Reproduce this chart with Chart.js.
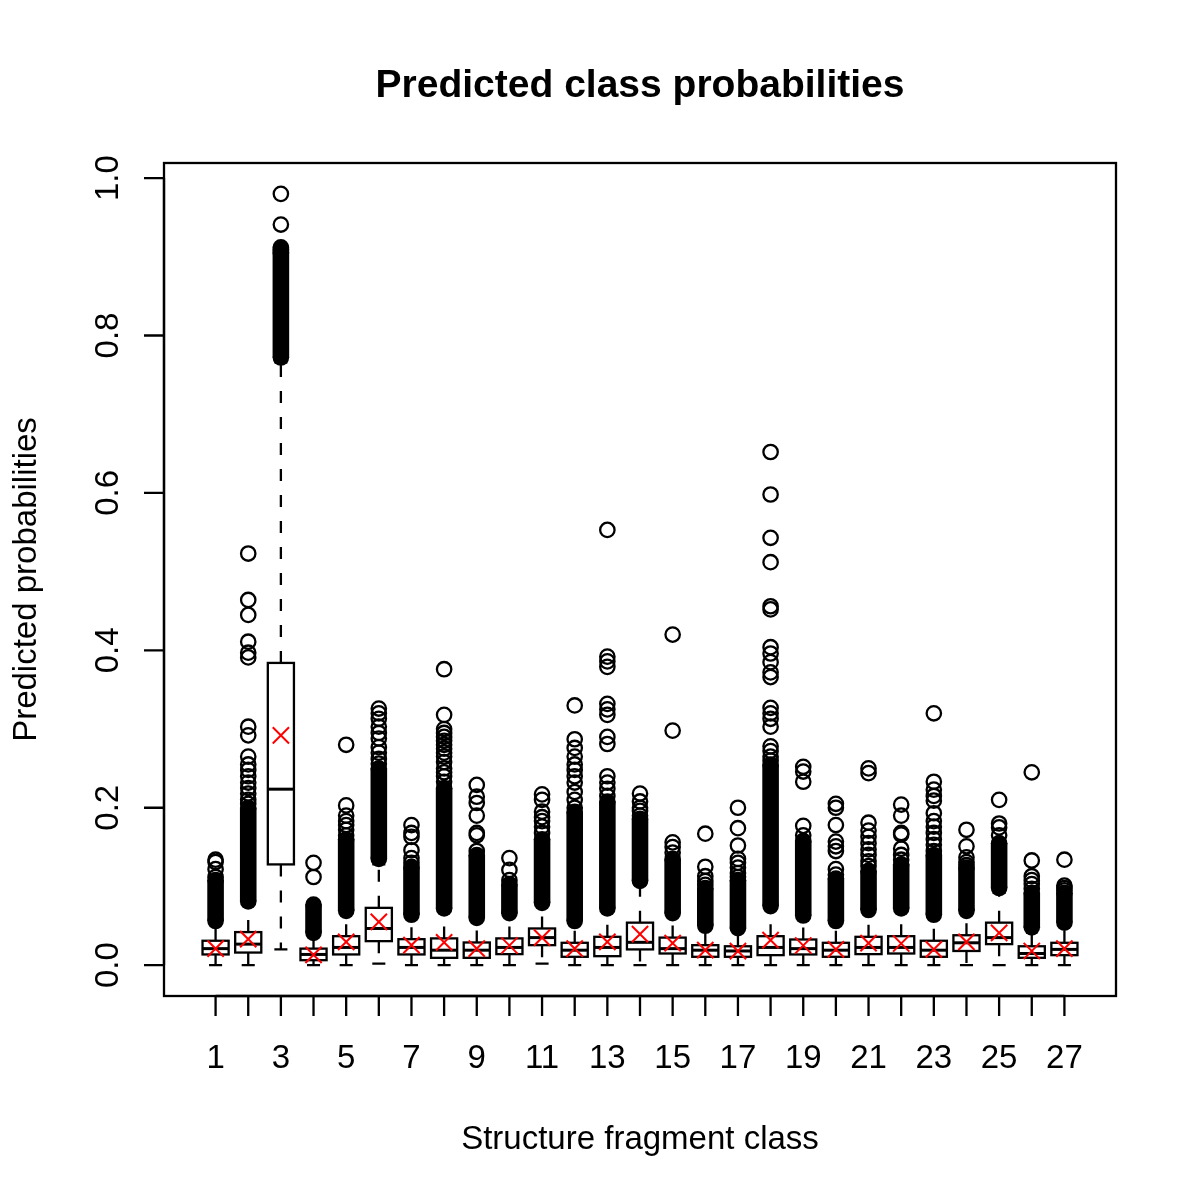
<!DOCTYPE html>
<html>
<head>
<meta charset="utf-8">
<script src="https://cdn.jsdelivr.net/npm/chart.js@4/dist/chart.umd.min.js"></script>
<style>
  body { margin: 0; background: #fff; }
  #wrap { width: 1200px; height: 1200px; }
</style>
</head>
<body>
<div id="wrap"><canvas id="boxChart" width="1200" height="1200"></canvas></div>
<script>
// class numbers on the x axis
const classes = [1,2,3,4,5,6,7,8,9,10,11,12,13,14,15,16,17,18,19,20,21,22,23,24,25,26,27];
const xTickLabels = ['1','3','5','7','9','11','13','15','17','19','21','23','25','27'];
const yTicks = [0, 0.2, 0.4, 0.6, 0.8, 1.0];
const yTickLabels = ['0.0','0.2','0.4','0.6','0.8','1.0'];

// box statistics
const q1 = [0.0136,0.016,0.128,0.0063,0.0136,0.0305,0.0136,0.0093,0.0093,0.014,0.0254,0.0106,0.0114,0.02,0.0148,0.0106,0.0106,0.0127,0.0136,0.0106,0.014,0.0148,0.0106,0.018,0.0267,0.0093,0.0127];
const medians = [0.021,0.0267,0.2236,0.0136,0.0225,0.0466,0.0225,0.019,0.019,0.0225,0.035,0.019,0.0225,0.029,0.021,0.019,0.018,0.0225,0.021,0.019,0.0225,0.0225,0.019,0.0284,0.035,0.0148,0.02];
const q3 = [0.031,0.042,0.384,0.021,0.0368,0.0728,0.033,0.034,0.0288,0.034,0.0466,0.0284,0.036,0.054,0.035,0.0254,0.024,0.0368,0.0326,0.0284,0.036,0.0368,0.031,0.038,0.054,0.024,0.0284];
const whiskerLo = [0,0,0.02,0,0,0.002,0,0,0,0,0.002,0,0,0,0,0,0,0,0,0,0,0,0,0,0,0,0];
const whiskerHi = [0.053,0.078,0.766,0.038,0.066,0.128,0.061,0.069,0.057,0.063,0.076,0.053,0.069,0.102,0.063,0.046,0.044,0.072,0.06,0.054,0.067,0.069,0.061,0.066,0.092,0.045,0.051];
const means = [0.021,0.033,0.292,0.013,0.0296,0.055,0.0254,0.029,0.021,0.025,0.035,0.021,0.0296,0.0394,0.028,0.019,0.0178,0.0318,0.025,0.02,0.028,0.0275,0.02,0.0296,0.041,0.018,0.021];

// range where the outliers are packed so tight they look solid
const denseLo = [0.056,0.081,0.772,0.041,0.069,0.135,0.064,0.072,0.06,0.066,0.079,0.056,0.072,0.107,0.066,0.05,0.047,0.075,0.063,0.056,0.07,0.072,0.064,0.069,0.098,0.048,0.054];
const denseHi = [0.108,0.2,0.91,0.077,0.16,0.25,0.125,0.225,0.14,0.103,0.16,0.195,0.208,0.186,0.135,0.098,0.108,0.255,0.158,0.11,0.12,0.128,0.14,0.124,0.155,0.092,0.092];

// the separate outlier circles
const outliers = [
  [0.134,0.131,0.122,0.112],
  [0.523,0.464,0.445,0.411,0.397,0.391,0.303,0.292,0.265,0.255,0.248,0.24,0.232,0.225,0.218,0.21,0.205],
  [0.98,0.941,0.912,0.905],
  [0.13,0.112],
  [0.28,0.203,0.19,0.183,0.178,0.172,0.165],
  [0.326,0.32,0.313,0.303,0.295,0.288,0.277,0.27,0.262,0.256],
  [0.178,0.168,0.163,0.146,0.136,0.13],
  [0.376,0.318,0.3,0.295,0.29,0.285,0.28,0.275,0.27,0.265,0.258,0.25,0.245,0.24,0.233],
  [0.229,0.214,0.206,0.19,0.168,0.165,0.145],
  [0.136,0.121,0.108],
  [0.217,0.21,0.195,0.188,0.183,0.176,0.168],
  [0.33,0.287,0.276,0.265,0.255,0.248,0.24,0.232,0.22,0.21,0.2],
  [0.553,0.392,0.386,0.379,0.332,0.325,0.318,0.29,0.281,0.24,0.232,0.224,0.215],
  [0.218,0.208,0.2,0.196,0.19],
  [0.42,0.298,0.156,0.15,0.143],
  [0.167,0.125,0.113,0.107,0.102],
  [0.2,0.174,0.152,0.135,0.13,0.124,0.117,0.112],
  [0.652,0.598,0.543,0.512,0.456,0.452,0.404,0.396,0.385,0.372,0.366,0.327,0.32,0.313,0.303,0.278,0.272,0.265,0.26],
  [0.252,0.246,0.233,0.177,0.165],
  [0.205,0.2,0.178,0.157,0.151,0.145,0.122,0.115],
  [0.25,0.244,0.181,0.171,0.163,0.155,0.147,0.14,0.132,0.126],
  [0.204,0.19,0.168,0.166,0.148,0.14,0.134],
  [0.32,0.233,0.223,0.215,0.209,0.193,0.183,0.176,0.168,0.16,0.153,0.145],
  [0.172,0.151,0.137,0.131,0.127],
  [0.21,0.18,0.175,0.165],
  [0.245,0.133,0.113,0.108,0.103,0.097],
  [0.134,0.101,0.098,0.095]
];

const FONT = '"Liberation Sans", Arial, Helvetica, sans-serif';

const outlierPoints = [];
classes.forEach(function(c, i){
  outliers[i].forEach(function(v){ outlierPoints.push({x: c, y: v}); });
});
const meanPoints = classes.map(function(c, i){ return {x: c, y: means[i]}; });

// boxes, whiskers and the solid outlier runs, drawn under the points
const boxPlugin = {
  id: 'rBoxes',
  beforeDatasetsDraw(chart){
    const ctx = chart.ctx;
    const xs = chart.scales.x, ys = chart.scales.y;
    ctx.save();
    classes.forEach(function(c, i){
      const cx = xs.getPixelForValue(c);
      const half = xs.getPixelForValue(c + 0.4) - cx;
      const cap = half / 2;
      const yq1 = ys.getPixelForValue(q1[i]);
      const yq3 = ys.getPixelForValue(q3[i]);
      const ylo = ys.getPixelForValue(whiskerLo[i]);
      const yhi = ys.getPixelForValue(whiskerHi[i]);

      ctx.strokeStyle = '#000';
      ctx.lineWidth = 2.3;
      ctx.setLineDash([12, 14]);
      ctx.beginPath();
      ctx.moveTo(cx, yq3); ctx.lineTo(cx, yhi);
      ctx.moveTo(cx, yq1); ctx.lineTo(cx, ylo);
      ctx.stroke();
      ctx.setLineDash([]);
      ctx.beginPath();
      ctx.moveTo(cx - cap, yhi); ctx.lineTo(cx + cap, yhi);
      ctx.moveTo(cx - cap, ylo); ctx.lineTo(cx + cap, ylo);
      ctx.stroke();

      ctx.fillStyle = '#fff';
      ctx.fillRect(cx - half, yq3, half * 2, yq1 - yq3);
      ctx.strokeRect(cx - half, yq3, half * 2, yq1 - yq3);
      const ymed = ys.getPixelForValue(medians[i]);
      ctx.lineWidth = 3;
      ctx.beginPath();
      ctx.moveTo(cx - half, ymed); ctx.lineTo(cx + half, ymed);
      ctx.stroke();

      // solid run of overlapping outlier circles
      const ya = ys.getPixelForValue(denseHi[i]);
      const yb = ys.getPixelForValue(denseLo[i]);
      const r = 8.3;
      ctx.fillStyle = '#000';
      ctx.fillRect(cx - r, ya, r * 2, yb - ya);
      ctx.beginPath(); ctx.arc(cx, ya, r, 0, Math.PI * 2); ctx.fill();
      ctx.beginPath(); ctx.arc(cx, yb, r, 0, Math.PI * 2); ctx.fill();
    });
    ctx.restore();
  },
  afterDraw(chart){
    const ctx = chart.ctx;
    const a = chart.chartArea;
    const xs = chart.scales.x, ys = chart.scales.y;
    ctx.save();
    ctx.strokeStyle = '#000';
    ctx.lineWidth = 2.3;
    ctx.strokeRect(a.left, a.top, a.right - a.left, a.bottom - a.top);

    // x axis
    ctx.beginPath();
    ctx.moveTo(xs.getPixelForValue(classes[0]), a.bottom);
    ctx.lineTo(xs.getPixelForValue(classes[classes.length - 1]), a.bottom);
    classes.forEach(function(c){
      const px = xs.getPixelForValue(c);
      ctx.moveTo(px, a.bottom); ctx.lineTo(px, a.bottom + 20);
    });
    ctx.stroke();
    ctx.fillStyle = '#000';
    ctx.font = '33px ' + FONT;
    ctx.textAlign = 'center';
    ctx.textBaseline = 'alphabetic';
    xTickLabels.forEach(function(t){
      ctx.fillText(t, xs.getPixelForValue(Number(t)), 1068);
    });

    // y axis
    ctx.beginPath();
    ctx.moveTo(a.left, ys.getPixelForValue(yTicks[0]));
    ctx.lineTo(a.left, ys.getPixelForValue(yTicks[yTicks.length - 1]));
    yTicks.forEach(function(v){
      const py = ys.getPixelForValue(v);
      ctx.moveTo(a.left, py); ctx.lineTo(a.left - 20, py);
    });
    ctx.stroke();
    yTicks.forEach(function(v, k){
      const py = ys.getPixelForValue(v);
      ctx.save();
      ctx.translate(118, py);
      ctx.rotate(-Math.PI / 2);
      ctx.fillText(yTickLabels[k], 0, 0);
      ctx.restore();
    });

    // titles
    ctx.font = 'bold 39px ' + FONT;
    ctx.fillText('Predicted class probabilities', (a.left + a.right) / 2, 97);
    ctx.font = '33px ' + FONT;
    ctx.fillText('Structure fragment class', (a.left + a.right) / 2, 1149);
    ctx.save();
    ctx.translate(36, (a.top + a.bottom) / 2);
    ctx.rotate(-Math.PI / 2);
    ctx.fillText('Predicted probabilities', 0, 0);
    ctx.restore();
    ctx.restore();
  }
};

const ctx = document.getElementById('boxChart').getContext('2d');
const boxChart = new Chart(ctx, {
  type: 'scatter',
  data: {
    datasets: [
      {
        label: 'mean',
        data: meanPoints,
        pointStyle: 'crossRot',
        radius: 11.5,
        borderWidth: 2,
        borderColor: '#ff0000',
        backgroundColor: '#ff0000'
      },
      {
        label: 'outliers',
        data: outlierPoints,
        pointStyle: 'circle',
        radius: 7.2,
        borderWidth: 2.3,
        borderColor: '#000',
        backgroundColor: 'rgba(0,0,0,0)'
      }
    ]
  },
  options: {
    responsive: false,
    animation: false,
    events: [],
    layout: { padding: { left: 164, top: 163, right: 84, bottom: 204 } },
    plugins: { legend: { display: false }, tooltip: { enabled: false }, title: { display: false } },
    scales: {
      x: { type: 'linear', min: -0.58, max: 28.58, display: false },
      y: { type: 'linear', min: -0.0392, max: 1.0192, display: false }
    }
  },
  plugins: [boxPlugin]
});
</script>
</body>
</html>
